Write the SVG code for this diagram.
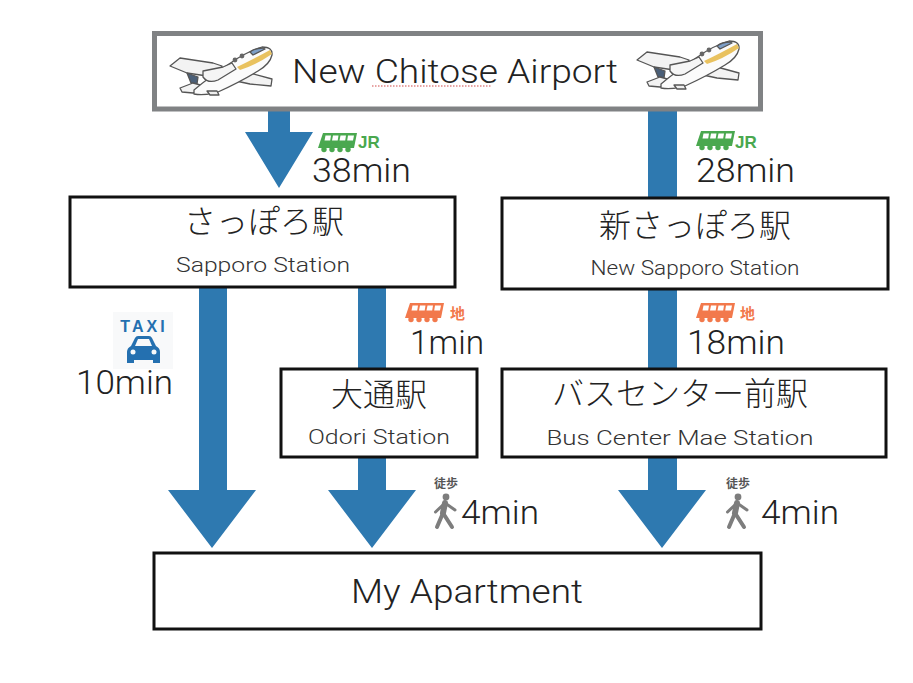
<svg xmlns="http://www.w3.org/2000/svg" xmlns:xlink="http://www.w3.org/1999/xlink" width="913" height="683" viewBox="0 0 913 683">
<style>
.box{fill:#fff;stroke:#111;stroke-width:3}
.air{fill:#fff;stroke:#808284;stroke-width:5}
.arrow{fill:#2e79b0}
text{font-family:"Roboto","Noto Sans CJK JP",sans-serif;font-weight:300;fill:#222}
.jp{font-family:"Noto Sans CJK JP",sans-serif;font-weight:300;font-size:32px;text-anchor:middle}
.en{font-size:21px;text-anchor:middle;fill:#333}
.t{font-size:33px}
.jr{font-family:"Liberation Sans",sans-serif;font-weight:700;font-size:17px;fill:#4aa84f}
.chi{font-family:"Noto Sans CJK JP",sans-serif;font-weight:700;font-size:15px;fill:#f2794c}
.toho{font-family:"Noto Sans CJK JP",sans-serif;font-weight:700;font-size:12px;fill:#555}
.pl{stroke:#555;stroke-width:1.3;stroke-linejoin:round}
</style>
<defs>
<g id="plane">
<path class="pl" d="M0 20 L10 12 L43 17 L52 20 L47 28 L37 30 L17 27 Z" fill="#f3f3f3"/>
<path class="pl" d="M17 27 L28 31 L27 38 L21 37 Z" fill="#4a5f78"/>
<path class="pl" d="M10 42 L23 37 L34 40 L36 44 L23 47 L12 46 Z" fill="#f3f3f3"/>
<path class="pl" d="M62 30 L80 27 L102 33 L101 40 L80 38 L66 35 Z" fill="#f3f3f3"/>
<path class="pl" d="M24 44 Q38 32 62 16 Q76 6 92 1 Q103 1 102 9 Q100 18 88 25 Q70 36 48 46 Q34 50 24 48 Z" fill="#fbfbfb"/>
<path d="M67 21 Q82 14 100 4 L102 8 Q86 19 70 24 Z" fill="#e9c25f"/>
<path class="pl" d="M80 6 Q85 2 93 2 L95 3 L83 9 Z" fill="#7d9fc8"/>
<circle cx="65" cy="14" r="2.400" fill="#666"/><circle cx="72" cy="10" r="2.400" fill="#666"/>
<path class="pl" d="M33 25 L53 21 L62 17 L66 23 L48 34 Q38 38 33 31 Z" fill="#f5f5f5"/>
<path class="pl" d="M37 45 L47 45 L49 49 L40 49 Z" fill="#eee"/>
</g>
<g id="train">
<path d="M5 0 H39 L36 15 H0 Z" fill="currentColor"/>
<path d="M7.500 2.500 H13 L12.200 7.500 H6.500 Z M15 2.500 H20.500 L19.700 7.500 H14 Z M22.500 2.500 H28 L27.200 7.500 H21.500 Z M30 2.500 H36 L35 7.500 H29.200 Z" fill="#fff"/>
<circle cx="6" cy="16.500" r="2.700" fill="currentColor"/><circle cx="14" cy="16.500" r="2.700" fill="currentColor"/><circle cx="22" cy="16.500" r="2.700" fill="currentColor"/><circle cx="30" cy="16.500" r="2.700" fill="currentColor"/>
</g>
<g id="walker" fill="#7d7d7d" stroke="#7d7d7d">
<circle cx="12" cy="2" r="3.400" stroke="none"/>
<path d="M11 8 L1.500 17 M11 8 L21 15" fill="none" stroke-width="3" stroke-linecap="round"/>
<path d="M11 8 L9 18" fill="none" stroke-width="6" stroke-linecap="round"/>
<path d="M9 18 L3 32 M9 18 L18 32" fill="none" stroke-width="4" stroke-linecap="round"/>
</g>
</defs>
<rect width="913" height="683" fill="#fff"/>
<g id="connectors">
<path class="arrow" d="M268 110 H290 V132 H313 L279 188 L245 132 H268 Z"/>
<rect class="arrow" x="648" y="110" width="29" height="88"/>
<rect class="arrow" x="648" y="289" width="29" height="80"/>
<path class="arrow" d="M199 287 H227 V490 H256 L212 548 L168 490 H199 Z"/>
<rect class="arrow" x="358" y="287" width="28" height="82"/>
<path class="arrow" d="M358 457 H386 V490 H416 L372 548 L328 490 H358 Z"/>
<path class="arrow" d="M648 457 H677 V490 H706 L662 548 L618 490 H648 Z"/>
</g>
<g id="airport">
<rect class="air" x="154.500" y="33.500" width="606" height="75.500"/>
<use xlink:href="#plane" href="#plane" x="170" y="46"/>
<use xlink:href="#plane" href="#plane" x="637" y="40"/>
<text x="292" y="83" font-size="34" textLength="326" lengthAdjust="spacingAndGlyphs">New Chitose Airport</text>
<path d="M372 86 H492" stroke="#d04a4a" stroke-width="1.200" stroke-dasharray="1.500 1.500" fill="none"/>
</g>
<g id="sapporo">
<rect class="box" x="70" y="197" width="385" height="90"/>
<text class="jp" x="264" y="233">さっぽろ駅</text>
<text class="en" x="263" y="272" textLength="174" lengthAdjust="spacingAndGlyphs">Sapporo Station</text>
</g>
<g id="new-sapporo">
<rect class="box" x="502" y="198" width="386" height="91"/>
<text class="jp" x="695" y="237">新さっぽろ駅</text>
<text class="en" x="695" y="275" textLength="209" lengthAdjust="spacingAndGlyphs">New Sapporo Station</text>
</g>
<g id="odori">
<rect class="box" x="281" y="369" width="196" height="88"/>
<text class="jp" x="379" y="406">大通駅</text>
<text class="en" x="379" y="444" textLength="142" lengthAdjust="spacingAndGlyphs">Odori Station</text>
</g>
<g id="bus-center">
<rect class="box" x="502" y="369" width="384" height="88"/>
<text class="jp" x="680" y="405">バスセンター前駅</text>
<text class="en" x="680" y="445" textLength="267" lengthAdjust="spacingAndGlyphs">Bus Center Mae Station</text>
</g>
<g id="apartment">
<rect class="box" x="154" y="553" width="607" height="76"/>
<text x="467" y="603" font-size="34" text-anchor="middle" textLength="232" lengthAdjust="spacingAndGlyphs">My Apartment</text>
</g>
<g id="label-jr-38" color="#4aa84f">
<use xlink:href="#train" href="#train" x="318" y="133"/>
<text class="jr" x="358" y="148">JR</text>
<text class="t" x="312" y="182" textLength="99" lengthAdjust="spacingAndGlyphs">38min</text>
</g>
<g id="label-jr-28" color="#4aa84f">
<use xlink:href="#train" href="#train" x="696" y="131"/>
<text class="jr" x="735" y="148">JR</text>
<text class="t" x="696" y="182" textLength="99" lengthAdjust="spacingAndGlyphs">28min</text>
</g>
<g id="label-taxi">
<rect x="113" y="312" width="60" height="57" fill="#f8f9fa"/>
<text x="144" y="332" font-size="16" style="font-family:'Liberation Sans',sans-serif;font-weight:700;fill:#2470b0;letter-spacing:3px" text-anchor="middle">TAXI</text>
<path d="M127 363 V352 Q127 348 131 346 L135 338 Q136 336 138 336 H149 Q151 336 152 338 L156 346 Q160 348 160 352 V363 H153 V360 H134 V363 Z" fill="#2470b0"/>
<path d="M138 339 H149 L152 346 H135 Z" fill="#f8f9fa"/>
<circle cx="133" cy="352" r="2.500" fill="#f8f9fa"/><circle cx="154" cy="352" r="2.500" fill="#f8f9fa"/>
<text class="t" x="76" y="394" textLength="97" lengthAdjust="spacingAndGlyphs">10min</text>
</g>
<g id="label-subway-1" color="#f2794c">
<use xlink:href="#train" href="#train" x="405" y="303"/>
<text class="chi" x="450" y="319">地</text>
<text class="t" x="410" y="354" textLength="74" lengthAdjust="spacingAndGlyphs">1min</text>
</g>
<g id="label-subway-18" color="#f2794c">
<use xlink:href="#train" href="#train" x="696" y="303"/>
<text class="chi" x="740" y="319">地</text>
<text class="t" x="687" y="354" textLength="98" lengthAdjust="spacingAndGlyphs">18min</text>
</g>
<g id="label-walk-left">
<text class="toho" x="434" y="488">徒歩</text>
<use xlink:href="#walker" href="#walker" x="434" y="495"/>
<text class="t" x="461" y="524" textLength="78" lengthAdjust="spacingAndGlyphs">4min</text>
</g>
<g id="label-walk-right">
<text class="toho" x="726" y="488">徒歩</text>
<use xlink:href="#walker" href="#walker" x="726" y="495"/>
<text class="t" x="761" y="524" textLength="78" lengthAdjust="spacingAndGlyphs">4min</text>
</g>
</svg>
